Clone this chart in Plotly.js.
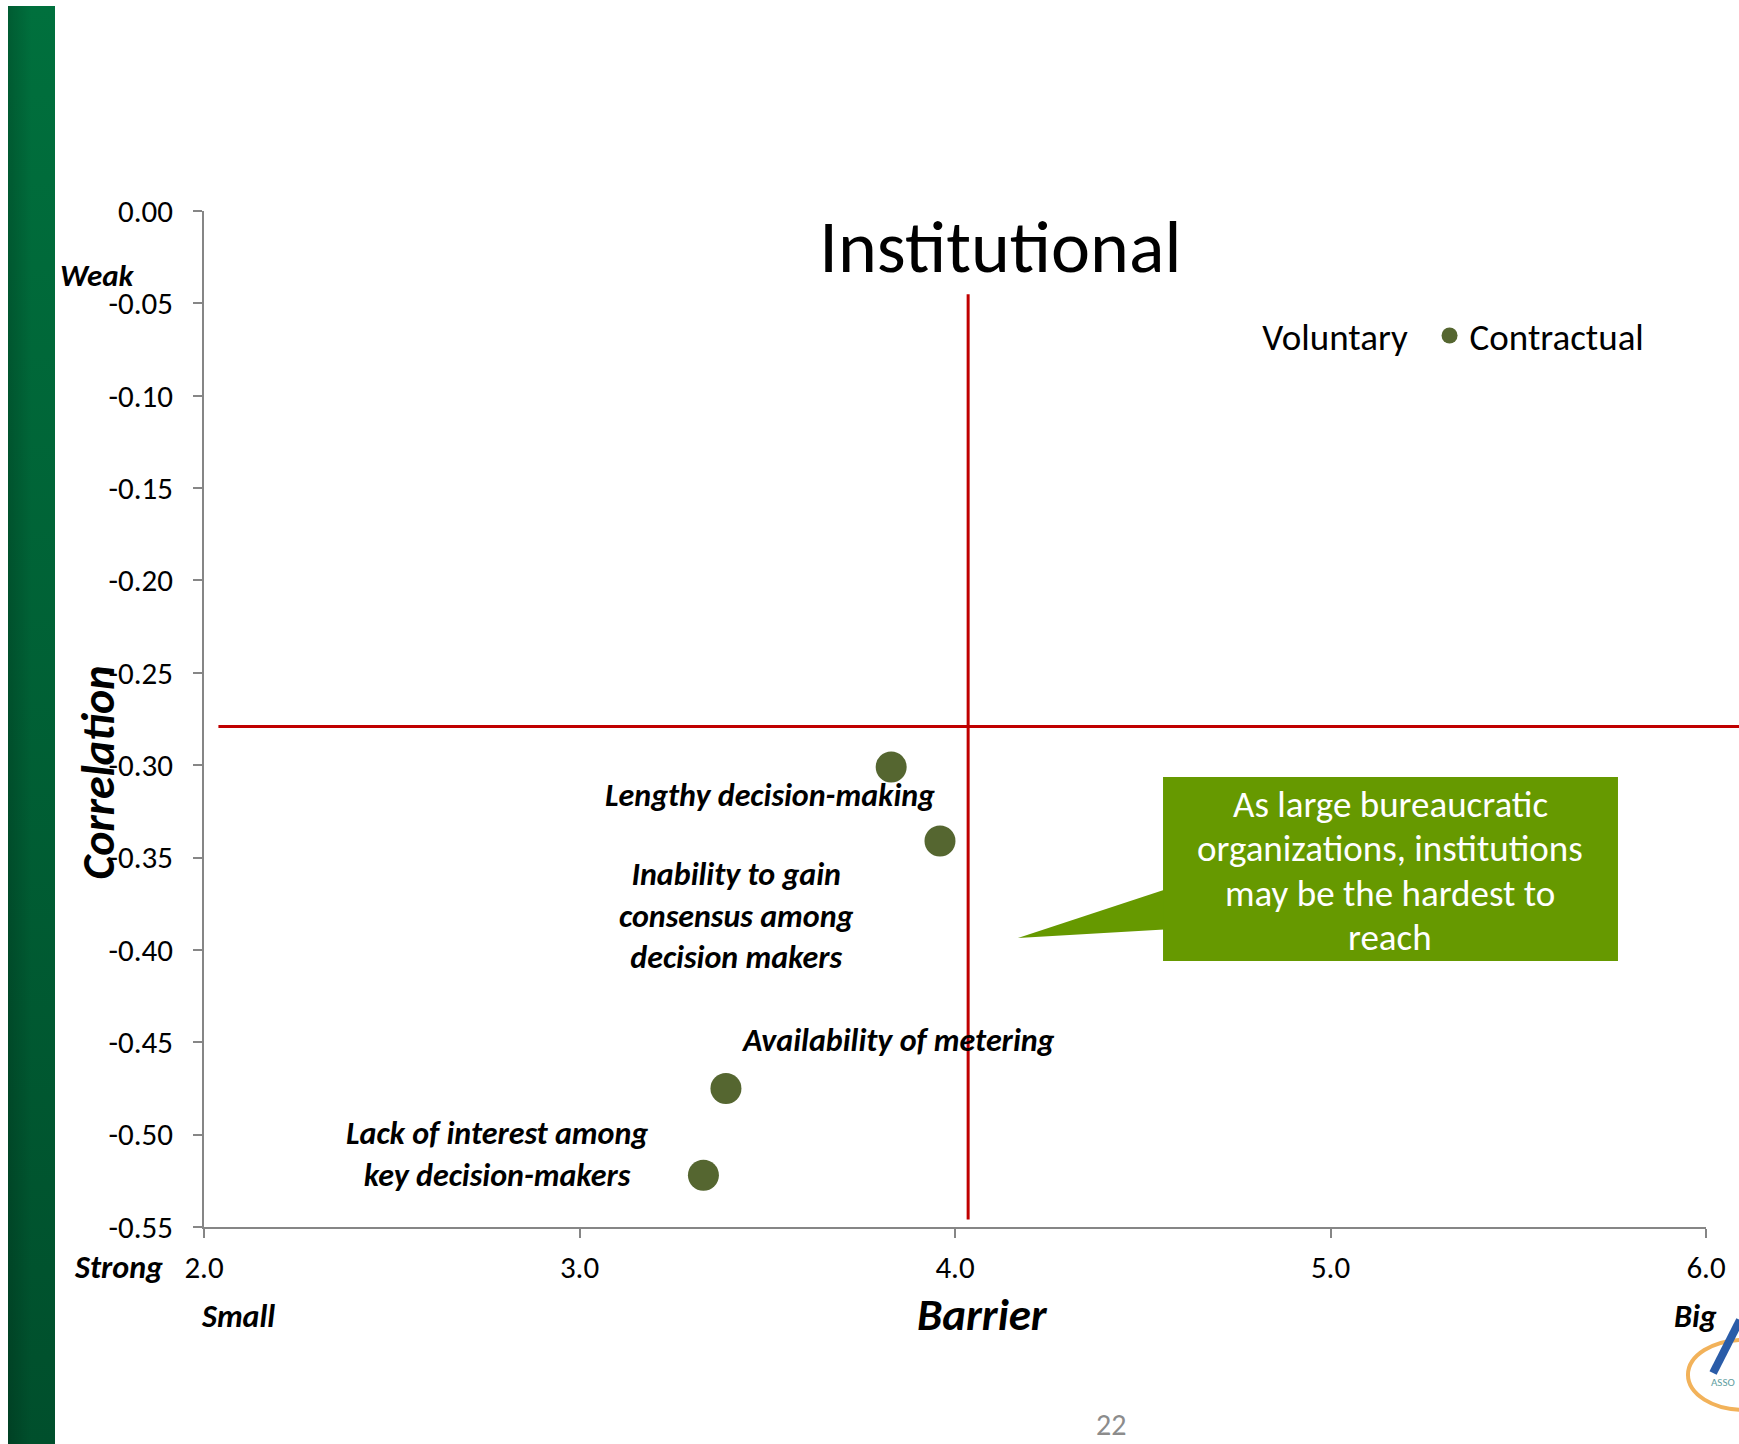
<!DOCTYPE html>
<html>
<head>
<meta charset="utf-8">
<script src="https://cdn.plot.ly/plotly-3.0.1.min.js"></script>
<style>html,body{margin:0;padding:0;background:#fff;}#chart{width:1739px;height:1444px;}</style>
</head>
<body>
<div id="chart"></div>
<script>
// ---- data ----
const barrierContractual = [3.83, 3.96, 3.39, 3.33];
const correlationContractual = [-0.301, -0.341, -0.475, -0.522];
const barrierVoluntary = [null];
const correlationVoluntary = [null];
const pointLabels = [
  "Lengthy decision-making",
  "Inability to gain<br>consensus among<br>decision makers",
  "Availability of metering",
  "Lack of interest among<br>key decision-makers"
];
const xTickVals = [2, 3, 4, 5, 6];
const xTickText = ["2.0", "3.0", "4.0", "5.0", "6.0"];
const yTickVals = [0, -0.05, -0.10, -0.15, -0.20, -0.25, -0.30, -0.35, -0.40, -0.45, -0.50, -0.55];
const yTickText = ["0.00", "-0.05", "-0.10", "-0.15", "-0.20", "-0.25", "-0.30", "-0.35", "-0.40", "-0.45", "-0.50", "-0.55"];
const barrierThreshold = 4.035;
const correlationThreshold = -0.279;
const calloutLines = ["As large bureaucratic", "organizations, institutions", "may be the hardest to", "reach"];

const FONT = "Calibri, Carlito, Lato, sans-serif";
const markerColor = "#556630";
const red = "#C00000";
const calloutGreen = "#669900";

const traces = [
  {
    type: "scatter", mode: "markers", name: "Voluntary\u00a0\u00a0",
    x: barrierVoluntary, y: correlationVoluntary,
    marker: {size: 30, color: "rgba(0,0,0,0)"},
    hoverinfo: "skip"
  },
  {
    type: "scatter", mode: "markers", name: "Contractual",
    x: barrierContractual, y: correlationContractual,
    marker: {size: 31, color: markerColor},
    hoverinfo: "x+y"
  }
];

const labelPos = [
  {x: 3.507, y: -0.3164},
  {x: 3.418, y: -0.3819},
  {x: 3.849, y: -0.4491},
  {x: 2.780, y: -0.5107}
];

const annotations = [];
pointLabels.forEach((t, i) => {
  annotations.push({
    xref: "x", yref: "y", x: labelPos[i].x, y: labelPos[i].y,
    text: "<b><i>" + t + "</i></b>", showarrow: false,
    xanchor: "center", yanchor: "middle", align: "center",
    font: {family: FONT, size: 32, color: "#000"}
  });
});

function paperText(text, x, y, size, extra) {
  return Object.assign({
    xref: "paper", yref: "paper", x: x, y: y, text: text, showarrow: false,
    xanchor: "center", yanchor: "middle",
    font: {family: FONT, size: size, color: "#000"}
  }, extra || {});
}

annotations.push(paperText("<b><i>Weak</i></b>", -0.0708, 0.937, 31));
annotations.push(paperText("<b><i>Strong</i></b>", -0.0568, -0.040, 32));
annotations.push(paperText("<b><i>Small</i></b>", 0.0229, -0.088, 32));
annotations.push(paperText("<b><i>Big</i></b>", 0.9932, -0.088, 32));
annotations.push(paperText("<b><i>Barrier</i></b>", 0.5184, -0.0858, 45));
annotations.push(paperText("<b><i>Correlation</i></b>", -0.0708, 0.4469, 46, {textangle: -90}));
annotations.push(paperText("22", 0.6039, -0.1939, 30, {font: {family: FONT, size: 30, color: "#8c8c8c"}}));
annotations.push(paperText("ASSO", 1.002, -0.153, 11, {xanchor: "left", font: {family: FONT, size: 11, color: "#5f9ea0"}}));

const calloutY = [0.4163, 0.3730, 0.3287, 0.2854];
calloutLines.forEach((t, i) => {
  annotations.push(paperText(t, 0.7899, calloutY[i], 37, {font: {family: FONT, size: 37, color: "#ffffff"}}));
});

const barSvg = 'data:image/svg+xml;utf8,' + encodeURIComponent(
  '<svg xmlns="http://www.w3.org/2000/svg" width="47" height="1438" preserveAspectRatio="none">' +
  '<defs><linearGradient id="v" x1="0" y1="0" x2="0" y2="1">' +
  '<stop offset="0" stop-color="#00703D"/><stop offset="1" stop-color="#004F2C"/></linearGradient>' +
  '<linearGradient id="h" x1="0" y1="0" x2="1" y2="0">' +
  '<stop offset="0" stop-color="#000" stop-opacity="0.18"/><stop offset="0.5" stop-color="#000" stop-opacity="0"/>' +
  '<stop offset="1" stop-color="#000" stop-opacity="0"/></linearGradient></defs>' +
  '<rect width="47" height="1438" fill="url(#v)"/><rect width="47" height="1438" fill="url(#h)"/></svg>');

const layout = {
  width: 1739, height: 1444,
  margin: {l: 204, r: 33, t: 211, b: 217, pad: 0},
  paper_bgcolor: "#ffffff", plot_bgcolor: "#ffffff",
  font: {family: FONT, color: "#000"},
  title: {
    text: "Institutional", xref: "paper", yref: "paper", x: 0.5302, y: 0.9653,
    xanchor: "center", yanchor: "middle",
    font: {family: FONT, size: 74, color: "#000"}
  },
  showlegend: true,
  legend: {
    orientation: "h", x: 0.678, y: 0.877, xanchor: "left", yanchor: "middle",
    font: {family: FONT, size: 37, color: "#000"},
    bgcolor: "rgba(0,0,0,0)",
    traceorder: "normal"
  },
  xaxis: {
    range: [2, 6], tickvals: xTickVals, ticktext: xTickText,
    showgrid: false, zeroline: false, showline: true, linecolor: "#868686", linewidth: 1.5,
    ticks: "outside", ticklen: 9, tickcolor: "#868686", tickwidth: 1.5,
    ticklabelstandoff: 3,
    tickfont: {family: FONT, size: 31, color: "#000"}, fixedrange: true
  },
  yaxis: {
    range: [-0.55, 0], tickvals: yTickVals, ticktext: yTickText,
    showgrid: false, zeroline: false, showline: true, linecolor: "#868686", linewidth: 1.5,
    ticks: "outside", ticklen: 9, tickcolor: "#868686", tickwidth: 1.5,
    ticklabelstandoff: 14,
    tickfont: {family: FONT, size: 31, color: "#000"}, fixedrange: true
  },
  shapes: [
    {type: "line", xref: "x", yref: "y", x0: barrierThreshold, x1: barrierThreshold, y0: -0.045, y1: -0.546,
     line: {color: red, width: 3}, layer: "above"},
    {type: "line", xref: "paper", yref: "y", x0: 0.0096, x1: 1.03, y0: correlationThreshold, y1: correlationThreshold,
     line: {color: red, width: 3}, layer: "above"},
    {type: "path", xref: "paper", yref: "paper",
     path: "M 0.645 0.3346 L 0.5419 0.2844 L 0.645 0.2933 Z",
     fillcolor: calloutGreen, line: {width: 0}, layer: "above"},
    {type: "rect", xref: "paper", yref: "paper", x0: 0.6385, x1: 0.9414, y0: 0.2618, y1: 0.4429,
     fillcolor: calloutGreen, line: {width: 0}, layer: "above"},
    {type: "circle", xref: "paper", yref: "paper", x0: 0.988, x1: 1.0626, y0: -0.180, y1: -0.111,
     line: {color: "#F2B25A", width: 4}, fillcolor: "rgba(0,0,0,0)", layer: "above"},
    {type: "line", xref: "paper", yref: "paper", x0: 1.0047, y0: -0.1437, x1: 1.0226, y1: -0.0915,
     line: {color: "#2A5CA8", width: 8}, layer: "above"}
  ],
  images: [
    {source: barSvg, xref: "paper", yref: "paper", x: -0.1305, y: 1.2018, sizex: 0.0313, sizey: 1.4154,
     xanchor: "left", yanchor: "top", sizing: "stretch", layer: "below"}
  ],
  annotations: annotations
};

Plotly.newPlot("chart", traces, layout, {displayModeBar: false});
</script>
</body>
</html>
